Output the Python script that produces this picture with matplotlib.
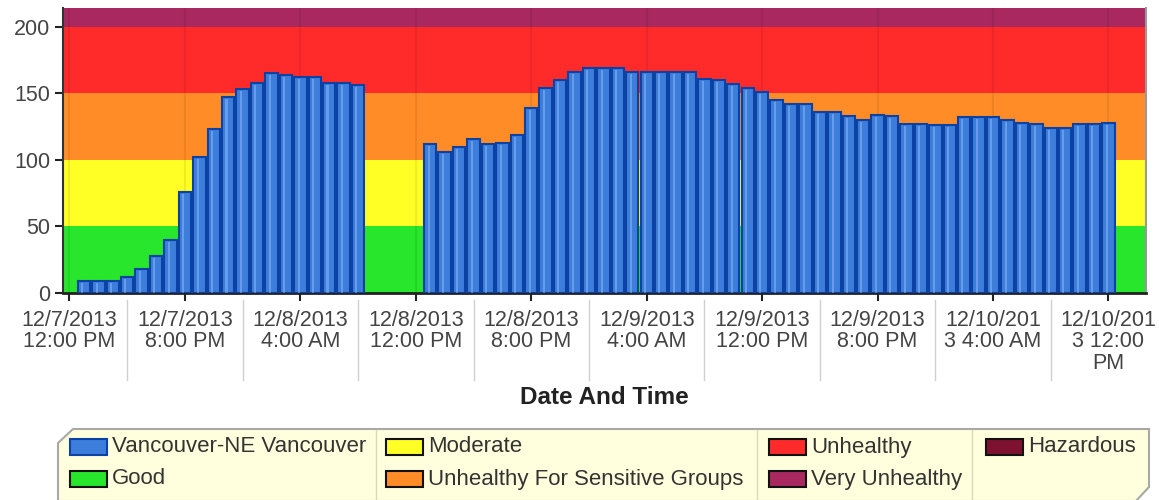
import numpy as np
import matplotlib
matplotlib.use("Agg")
import matplotlib.pyplot as plt
from matplotlib.patches import Polygon, Rectangle
import matplotlib.transforms as mtransforms

plt.rcParams['font.family'] = ['Liberation Sans', 'DejaVu Sans']

# ---- data (hours after 12/7/2013 12:00 PM) ----
hours_part1 = list(range(1, 21))
aqi_part1 = [9, 9, 9, 12, 18, 28, 40, 76, 102, 123, 147, 153, 158, 165, 164,
             162, 162, 158, 158, 156]
hours_part2 = list(range(25, 73))
aqi_part2 = [112, 106, 110, 116, 112, 113, 119, 139, 154, 160, 166, 169, 169,
             169, 166, 166, 166, 166, 166, 161, 160, 157, 154, 151,
             145, 142, 142, 136, 136, 133, 130, 134, 133, 127, 127, 126, 126,
             132, 132, 132, 130, 128, 127, 124, 124, 127, 127, 128]
hours = hours_part1 + hours_part2
aqi = aqi_part1 + aqi_part2

tick_hours = [0, 8, 16, 24, 32, 40, 48, 56, 64, 72]
tick_labels = ["12/7/2013\n12:00 PM", "12/7/2013\n8:00 PM", "12/8/2013\n4:00 AM",
               "12/8/2013\n12:00 PM", "12/8/2013\n8:00 PM", "12/9/2013\n4:00 AM",
               "12/9/2013\n12:00 PM", "12/9/2013\n8:00 PM", "12/10/201\n3 4:00 AM",
               "12/10/201\n3 12:00\nPM"]
y_ticks = [0, 50, 100, 150, 200]

band_names = ["Good", "Moderate", "Unhealthy For Sensitive Groups", "Unhealthy",
              "Very Unhealthy", "Hazardous"]
band_low = [0, 50, 100, 150, 200, 300]
band_high = [50, 100, 150, 200, 300, 500]
band_colors = ["#27E62B", "#FFFF26", "#FF8C26", "#FF2B2B", "#A8285F", "#7E1030"]
series_name = "Vancouver-NE Vancouver"
bar_color = "#3D7EDD"
bar_edge = "#0B42A3"

W, H = 1159, 500
fig = plt.figure(figsize=(W / 100, H / 100), dpi=100)
ax = fig.add_axes([63 / W, 207 / H, (1146 - 63) / W, 285 / H])

for lo, hi, c in zip(band_low, band_high, band_colors):
    ax.axhspan(lo, hi, color=c, zorder=0, lw=0)

for t in tick_hours:
    ax.axvline(t, color='black', alpha=0.07, lw=1.5, zorder=1)

ax.bar(hours, aqi, width=0.86, color=bar_color, edgecolor=bar_edge,
       linewidth=1.5, zorder=3)
ax.bar(np.array(hours) - 0.12, np.array(aqi) - 1.5, width=0.14,
       color='#9CC3F5', alpha=0.45, lw=0, zorder=4)

ax.set_xlim(-0.45, 74.6)
ax.set_ylim(0, 214)
ax.set_xticks(tick_hours)
ax.set_xticklabels(tick_labels, linespacing=1.05)
ax.set_yticks(y_ticks)
ax.tick_params(axis='x', direction='out', length=6, width=1.5, color='#222222',
               pad=6, labelsize=15.5, labelcolor='#444444')
ax.tick_params(axis='y', direction='out', length=6, width=1.5, color='#222222',
               pad=3, labelsize=15.5, labelcolor='#444444')
for lab in ax.get_xticklabels():
    lab.set_verticalalignment('top')

ax.spines['top'].set_visible(False)
ax.spines['right'].set_color('#999999')
ax.spines['right'].set_linewidth(1.5)
ax.spines['left'].set_color('#333333')
ax.spines['left'].set_linewidth(1.5)
ax.spines['bottom'].set_color('#222222')
ax.spines['bottom'].set_linewidth(2)

# separators between category labels
trans = mtransforms.blended_transform_factory(ax.transData, ax.transAxes)
for t in tick_hours[:-1]:
    ax.plot([t + 4, t + 4], [-0.025, -0.305], transform=trans, color='#D0D0D0',
            lw=1, clip_on=False)

ax.set_xlabel("Date And Time", fontsize=17.5, fontweight='bold', color='#222222')
ax.xaxis.set_label_coords(0.5, -0.325)


def fx(px):
    return px / W


def fy(py):
    return 1 - py / H


# legend box
poly = Polygon([(fx(58), fy(443)), (fx(73), fy(429)), (fx(1149), fy(429)),
                (fx(1149), fy(487)), (fx(1136), fy(501)), (fx(58), fy(501))],
               closed=True, transform=fig.transFigure, facecolor='#FFFFDD',
               edgecolor='#A8A8A8', lw=1.5)
fig.add_artist(poly)
for dx in [376, 757, 972]:
    fig.add_artist(plt.Line2D([fx(dx), fx(dx)], [fy(430), fy(500)],
                              transform=fig.transFigure, color='#D8D8C0', lw=1))

legend_entries = [
    (70, 447, series_name, bar_color, bar_edge),
    (70, 479, band_names[0], band_colors[0], '#111111'),
    (386, 447, band_names[1], band_colors[1], '#111111'),
    (386, 479, band_names[2], band_colors[2], '#111111'),
    (769, 447, band_names[3], band_colors[3], '#111111'),
    (769, 479, band_names[4], band_colors[4], '#111111'),
    (986, 447, band_names[5], band_colors[5], '#111111'),
]
for px, py, lab, c, ec in legend_entries:
    fig.add_artist(Rectangle((fx(px), fy(py + 8)), 37 / W, 16 / H,
                             transform=fig.transFigure, facecolor=c,
                             edgecolor=ec, lw=1.5))
    fig.text(fx(px + 42), fy(py), lab, fontsize=16, color='#333333',
             va='center', ha='left')

fig.savefig("out.png", dpi=100)
